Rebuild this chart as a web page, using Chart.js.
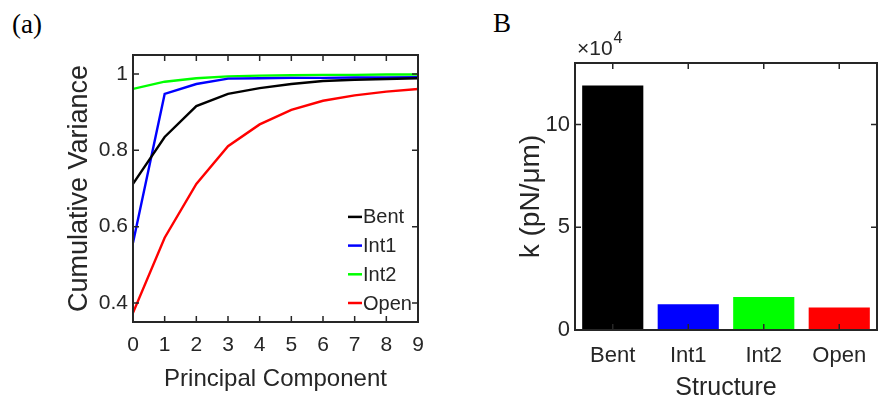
<!DOCTYPE html>
<html>
<head>
<meta charset="utf-8">
<script src="https://cdn.jsdelivr.net/npm/chart.js@4/dist/chart.umd.min.js"></script>
<style>
  html, body { margin:0; padding:0; background:#fff; }
  #wrap { position:relative; width:883px; height:403px; overflow:hidden; }
  .panel { position:absolute; top:0; }
  .tag { position:absolute; font-family:"Liberation Serif", "DejaVu Serif", serif; font-size:27px; line-height:27px; color:#000; }
</style>
</head>
<body>
<div id="wrap">
  <div class="tag" style="left:12px; top:11px;">(a)</div>
  <div class="tag" style="left:493px; top:10px;">B</div>
  <canvas id="c1" class="panel" style="left:0px" width="460" height="403"></canvas>
  <canvas id="c2" class="panel" style="left:460px" width="423" height="403"></canvas>
</div>
<script>
// ---- data: left panel (cumulative variance) ----
const components = [0, 1, 2, 3, 4, 5, 6, 7, 8, 9];
const bentVar = [0.712, 0.835, 0.916, 0.948, 0.963, 0.974, 0.982, 0.985, 0.987, 0.989];
const int1Var = [0.558, 0.948, 0.974, 0.988, 0.989, 0.990, 0.990, 0.991, 0.991, 0.992];
const int2Var = [0.961, 0.980, 0.989, 0.994, 0.996, 0.997, 0.998, 0.998, 0.999, 0.999];
const openVar = [0.374, 0.571, 0.712, 0.811, 0.868, 0.906, 0.930, 0.944, 0.954, 0.961];
const varYTicks = [0.4, 0.6, 0.8, 1];
const varXTicks = [0, 1, 2, 3, 4, 5, 6, 7, 8, 9];

// ---- data: right panel (stiffness, x10^4 pN/um) ----
const structures = ["Bent", "Int1", "Int2", "Open"];
const stiffness = [11.9, 1.25, 1.61, 1.1];
const kYTicks = [0, 5, 10];

const seriesNames = ["Bent", "Int1", "Int2", "Open"];
const seriesColors = ["#000000", "#0000ff", "#00ff00", "#ff0000"];

const INK = "#262626";
const SANS = "'Liberation Sans', Arial, Helvetica, sans-serif";

// frame + inward tick marks on all four sides
const boxTicks = {
  id: 'boxTicks',
  afterDatasetsDraw(chart) {
    const { ctx, chartArea: a, scales } = chart;
    const L = 6;
    ctx.save();
    ctx.strokeStyle = INK;
    ctx.lineWidth = 1.5;
    ctx.beginPath();
    const xs = scales.x, ys = scales.y;
    xs.ticks.forEach((t, i) => {
      const px = xs.getPixelForTick(i);
      ctx.moveTo(px, a.bottom); ctx.lineTo(px, a.bottom - L);
      ctx.moveTo(px, a.top); ctx.lineTo(px, a.top + L);
    });
    ys.ticks.forEach((t, i) => {
      const py = ys.getPixelForTick(i);
      ctx.moveTo(a.left, py); ctx.lineTo(a.left + L, py);
      ctx.moveTo(a.right, py); ctx.lineTo(a.right - L, py);
    });
    ctx.stroke();
    ctx.lineWidth = 2;
    ctx.strokeRect(a.left, a.top, a.right - a.left, a.bottom - a.top);
    ctx.restore();
  }
};

// legend drawn inside the plot area (bottom right)
const innerLegend = {
  id: 'innerLegend',
  afterDatasetsDraw(chart) {
    const { ctx, chartArea: a } = chart;
    const ds = chart.data.datasets;
    const rowH = 28.7;
    const y0 = a.bottom - 19 - rowH * (ds.length - 1);
    ctx.save();
    ctx.font = "20px " + SANS;
    ctx.textBaseline = "middle";
    ds.forEach((d, i) => {
      const y = y0 + i * rowH;
      ctx.strokeStyle = d.borderColor;
      ctx.lineWidth = 2.5;
      ctx.beginPath();
      ctx.moveTo(a.right - 70, y); ctx.lineTo(a.right - 56, y);
      ctx.stroke();
      ctx.fillStyle = INK;
      ctx.fillText(d.label, a.right - 55, y + 1);
    });
    ctx.restore();
  }
};

// "×10^4" exponent label above right plot
const expLabel = {
  id: 'expLabel',
  afterDraw(chart) {
    const { ctx, chartArea: a } = chart;
    ctx.save();
    ctx.fillStyle = INK;
    ctx.textBaseline = "alphabetic";
    ctx.font = "21px " + SANS;
    const base = "\u00d710";
    ctx.fillText(base, a.left + 2, a.top - 8);
    const w = ctx.measureText(base).width;
    ctx.font = "16px " + SANS;
    ctx.fillText("4", a.left + 2 + w + 1, a.top - 20);
    ctx.restore();
  }
};

Chart.defaults.color = INK;
Chart.defaults.font.family = SANS;

// ---- left chart ----
new Chart(document.getElementById('c1'), {
  type: 'line',
  data: {
    datasets: [bentVar, int1Var, int2Var, openVar].map((vals, k) => ({
      label: seriesNames[k],
      data: components.map((c, i) => ({ x: c, y: vals[i] })),
      borderColor: seriesColors[k],
      backgroundColor: seriesColors[k],
      borderWidth: 2.4,
      pointRadius: 0,
      tension: 0,
      fill: false
    }))
  },
  options: {
    responsive: false,
    animation: false,
    devicePixelRatio: 1,
    layout: { padding: { top: 55, right: 42, left: 0, bottom: 0 } },
    plugins: { legend: { display: false }, tooltip: { enabled: false } },
    scales: {
      x: {
        type: 'linear', min: 0, max: 9,
        afterBuildTicks: s => { s.ticks = varXTicks.map(v => ({ value: v })); },
        afterFit: s => { s.height = 81; },
        grid: { display: false, drawTicks: false },
        border: { display: false },
        ticks: { font: { size: 21 }, padding: 11, maxRotation: 0, color: INK },
        title: { display: true, text: 'Principal Component', font: { size: 24 }, color: INK, padding: { top: 0, bottom: 9 } }
      },
      y: {
        type: 'linear', min: 0.35, max: 1.05,
        afterBuildTicks: s => { s.ticks = varYTicks.map(v => ({ value: v })); },
        afterFit: s => { s.width = 133; },
        grid: { display: false, drawTicks: false },
        border: { display: false },
        ticks: { font: { size: 21 }, padding: 5, color: INK, callback: v => String(+v.toFixed(2)) },
        title: { display: true, text: 'Cumulative Variance', font: { size: 27 }, color: INK, padding: { top: 63, bottom: 0 } }
      }
    }
  },
  plugins: [boxTicks, innerLegend]
});

// ---- right chart ----
new Chart(document.getElementById('c2'), {
  type: 'bar',
  data: {
    labels: structures,
    datasets: [{
      label: 'k',
      data: stiffness,
      backgroundColor: seriesColors,
      borderWidth: 0,
      barPercentage: 0.81,
      categoryPercentage: 1.0
    }]
  },
  options: {
    responsive: false,
    animation: false,
    devicePixelRatio: 1,
    layout: { padding: { top: 63, right: 6, left: 0, bottom: 0 } },
    plugins: { legend: { display: false }, tooltip: { enabled: false } },
    scales: {
      x: {
        type: 'category', offset: true,
        afterFit: s => { s.height = 73; },
        grid: { display: false, drawTicks: false },
        border: { display: false },
        ticks: { font: { size: 22 }, padding: 13, maxRotation: 0, color: INK },
        title: { display: true, text: 'Structure', font: { size: 25 }, color: INK, padding: { top: 0, bottom: 0 } }
      },
      y: {
        type: 'linear', min: 0, max: 13,
        afterBuildTicks: s => { s.ticks = kYTicks.map(v => ({ value: v })); },
        afterFit: s => { s.width = 115; },
        grid: { display: false, drawTicks: false },
        border: { display: false },
        ticks: { font: { size: 22 }, padding: 5, color: INK },
        title: { display: true, text: 'k (pN/\u03bcm)', font: { size: 28 }, color: INK, padding: { top: 54, bottom: 0 } }
      }
    }
  },
  plugins: [boxTicks, expLabel]
});
</script>
</body>
</html>
